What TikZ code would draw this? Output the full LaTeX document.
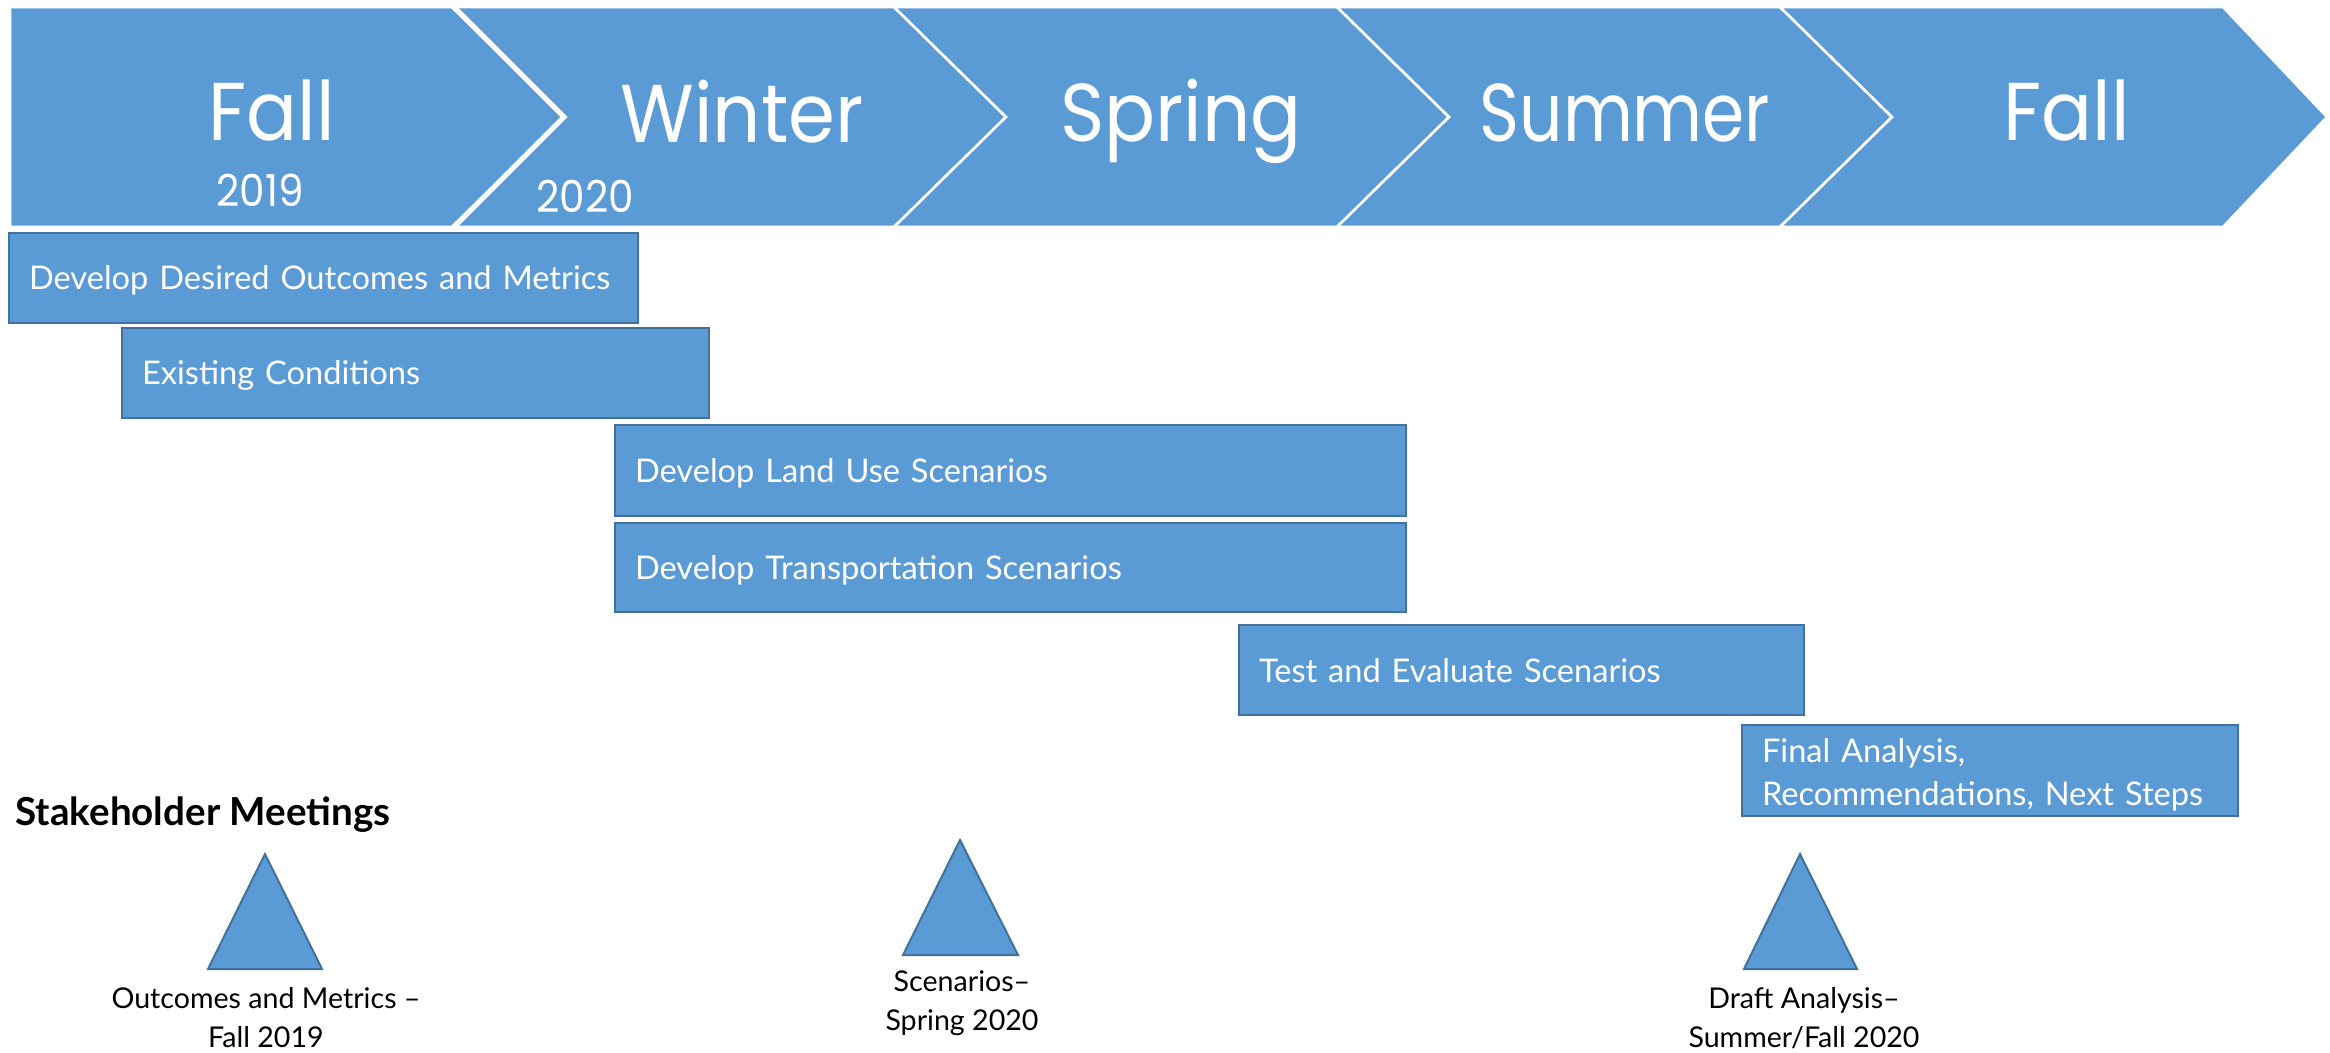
\documentclass[tikz,border=0pt]{standalone}
\usepackage{fontspec}
\setmainfont{Lato}
\newfontfamily\headfont{Poppins}[FakeStretch=0.92]
\definecolor{blue1}{HTML}{5B9BD5}
\definecolor{edge1}{HTML}{41719C}
\begin{document}
\begin{tikzpicture}[x=0.5pt,y=-0.5pt,
 chev/.style={fill=blue1, draw=white, line width=1.3pt, line join=miter},
 season/.style={text=white, font=\headfont\fontsize{41}{48}\selectfont, anchor=base, inner sep=0pt},
 year/.style={text=white, font=\headfont\fontsize{22}{26}\selectfont, anchor=base, inner sep=0pt},
 task/.style={draw=edge1, fill=blue1, line width=1.2pt, text=white, font=\fontsize{16.3}{21.5}\selectfont, align=left, inner xsep=10pt, inner ysep=0pt, text height=12pt, text depth=0pt},
 tri/.style={fill=blue1, draw=edge1, line width=1pt, line join=miter},
 meet/.style={font=\fontsize{14.3}{19.5}\selectfont, align=center, inner sep=0pt}]
\useasboundingbox (0,0) rectangle (2330,1053);
% chevrons
\filldraw[chev] (10,7) -- (452,7) -- (564,117) -- (452,227) -- (10,227) -- cycle;
\filldraw[chev] (452,7) -- (894,7) -- (1006,117) -- (894,227) -- (452,227) -- (564,117) -- cycle;
\filldraw[chev] (894,7) -- (1337,7) -- (1449,117) -- (1337,227) -- (894,227) -- (1006,117) -- cycle;
\filldraw[chev] (1337,7) -- (1780,7) -- (1892,117) -- (1780,227) -- (1337,227) -- (1449,117) -- cycle;
\filldraw[chev] (1780,7) -- (2223,7) -- (2327,117) -- (2223,227) -- (1780,227) -- (1892,117) -- cycle;
\draw[white, line width=2.5pt] (452,5) -- (564,117) -- (452,229);
% season labels
\node[season] (s1) at (272,141) {Fall};
\node[year] (y1) at (260,207) {2019};
\node[season] (s2) at (742,143) {Winter};
\node[year] (y2) at (585,213) {2020};
\node[season] (s3) at (1181,142) {Spring};
\node[season] (s4) at (1625,142) {\scalebox{0.9}[1]{Summer}};
\node[season] (s5) at (2067,141) {Fall};
% tasks
\node[task, minimum width=314.5pt, minimum height=45pt, text width=294.5pt] (b1) at (323.5,278) {\mbox{Develop Desired Outcomes and Metrics}};
\node[task, minimum width=293.5pt, minimum height=45pt, text width=273.5pt] (b2) at (415.5,373) {\mbox{Existing Conditions}};
\node[task, minimum width=395.5pt, minimum height=45.5pt, text width=375.5pt] (b3) at (1010.5,470.5) {\mbox{Develop Land Use Scenarios}};
\node[task, minimum width=395.5pt, minimum height=44.5pt, text width=375.5pt] (b4) at (1010.5,567.5) {\mbox{Develop Transportation Scenarios}};
\node[task, minimum width=282.5pt, minimum height=45pt, text width=262.5pt] (b5) at (1521.5,670) {\mbox{Test and Evaluate Scenarios}};
\node[task, minimum width=248pt, minimum height=45.5pt, text width=228pt, text depth=20.5pt] (b6) at (1990,770.5) {\mbox{Final Analysis,}\\\mbox{Recommendations, Next Steps}};
% stakeholder meetings
\node[font=\bfseries\fontsize{19.3}{23}\selectfont, anchor=base west, inner sep=0pt] (sm) at (15,825) {Stakeholder Meetings};
\filldraw[tri] (208,969) -- (265,854) -- (322,969) -- cycle;
\filldraw[tri] (903,955) -- (960,840) -- (1018,955) -- cycle;
\filldraw[tri] (1744,969) -- (1800,854) -- (1857,969) -- cycle;
\node[meet] (m1) at (266,1018) {Outcomes and Metrics –\\Fall 2019};
\node[meet] (m2) at (962,1003) {Scenarios–\\Spring 2020};
\node[meet] (m3) at (1804,1018) {Draft Analysis–\\Summer/Fall 2020};
\end{tikzpicture}
\end{document}
